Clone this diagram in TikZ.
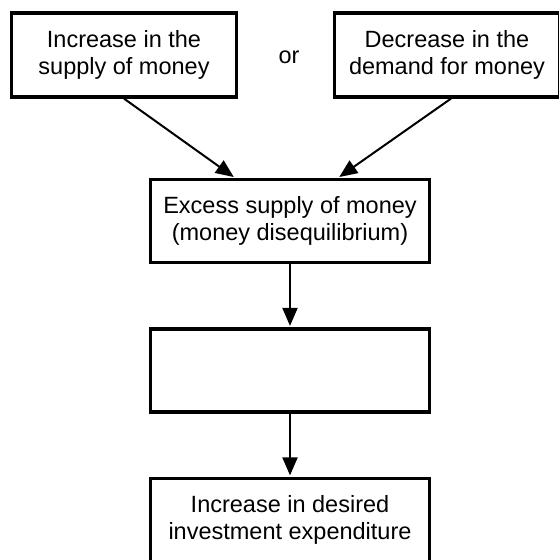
\documentclass[tikz,border=0pt]{standalone}
\usepackage{fontspec}
\setmainfont{Liberation Sans}
\usetikzlibrary{positioning,arrows.meta}

\begin{document}
\begin{tikzpicture}[x=1pt,y=-1pt,
			boxnode/.style={rectangle, draw=black, line width=3.2pt, fill=white, minimum width=225pt, minimum height=84pt, align=center, font=\fontsize{23.5}{27}\selectfont},
			widenode/.style={boxnode, minimum width=279pt, minimum height=83pt},
			flowarrow/.style={line width=2pt, shorten >=1.5pt, -{Triangle[length=18pt,width=15pt]}},
			]
			\useasboundingbox (0,0) rectangle (558,560);
			%Nodes
			\node[boxnode]      (supply)    at 	(124,55)    {Increase in the\\supply of money};
			\node               (or)        at 	(289,57)    {\fontsize{23.5}{27}\selectfont or};
			\node[boxnode]      (demand)    at 	(447,55)    {Decrease in the\\demand for money};
			\node[widenode]     (excess)    at 	(290,221)   {Excess supply of money\\(money disequilibrium)};
			\node[widenode]     (blank)     at 	(290,370.5) {};
			\node[widenode]     (invest)    at 	(290,520)   {Increase in desired\\investment expenditure};
			
			%Lines
			\draw[flowarrow] (supply.south) -- ([xshift=-55pt]excess.north);
			\draw[flowarrow] ([xshift=4pt]demand.south) -- ([xshift=48pt]excess.north);
			\draw[flowarrow] (excess.south) -- (blank.north);
			\draw[flowarrow] (blank.south) -- (invest.north);
		\end{tikzpicture}
\end{document}
